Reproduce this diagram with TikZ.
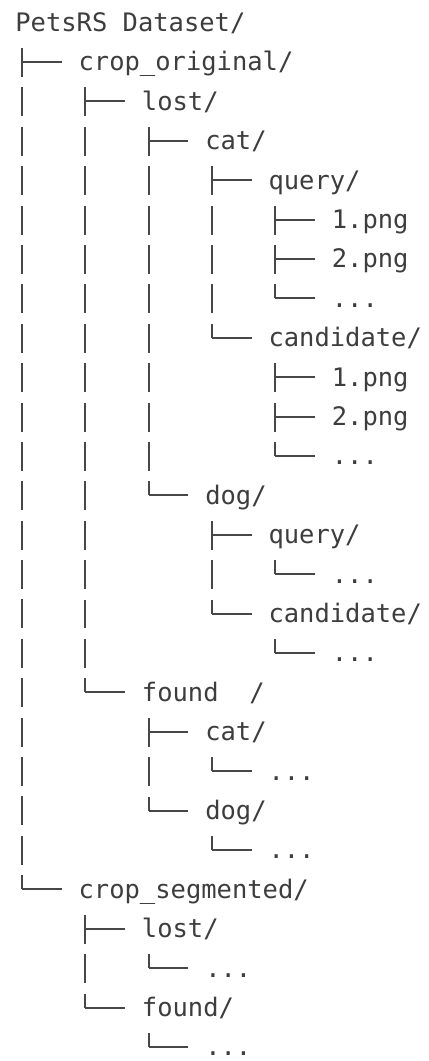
\documentclass[tikz,border=0pt]{standalone}
\usepackage{fontspec}
\setmonofont{DejaVu Sans Mono}
\usepackage{xcolor}
\usepackage{tikz}
\usetikzlibrary{calc}
\definecolor{txt}{HTML}{3D3D3D}
\definecolor{ln}{HTML}{474747}

\begin{document}
\begin{tikzpicture}[x=0.02cm,y=-0.02cm,font=\ttfamily\fontsize{14.5}{17}\selectfont,
  entry/.style={anchor=west,inner sep=0pt,text height=12pt,text depth=1.8pt,text=txt},
  trunk/.style={draw=ln,line width=1.05pt,dash pattern=on 0.58cm off 0.208cm},
  twig/.style={draw=ln,line width=1.05pt,shorten >=0.33cm}]
\useasboundingbox (0,0) rectangle (429,1061);
% entries, one per line of the listing
\node[entry] (root)   at (15,22.6)     {PetsRS Dataset/};
\node[entry] (orig)   at (78.3,62.0)   {crop\_original/};
\node[entry] (olost)  at (141.6,101.4) {lost/};
\node[entry] (olcat)  at (204.9,140.8) {cat/};
\node[entry] (olcq)   at (268.2,180.2) {query/};
\node[entry] (olcq1)  at (331.5,219.6) {1.png};
\node[entry] (olcq2)  at (331.5,259.0) {2.png};
\node[entry] (olcq3)  at (331.5,298.4) {...};
\node[entry] (olcc)   at (268.2,337.8) {candidate/};
\node[entry] (olcc1)  at (331.5,377.2) {1.png};
\node[entry] (olcc2)  at (331.5,416.6) {2.png};
\node[entry] (olcc3)  at (331.5,456.0) {...};
\node[entry] (oldog)  at (204.9,495.4) {dog/};
\node[entry] (oldq)   at (268.2,534.8) {query/};
\node[entry] (oldq1)  at (331.5,574.2) {...};
\node[entry] (oldc)   at (268.2,613.6) {candidate/};
\node[entry] (oldc1)  at (331.5,653.0) {...};
\node[entry] (ofound) at (141.6,692.4) {found\ \ /};
\node[entry] (ofcat)  at (204.9,731.8) {cat/};
\node[entry] (ofcat1) at (268.2,771.2) {...};
\node[entry] (ofdog)  at (204.9,810.6) {dog/};
\node[entry] (ofdog1) at (268.2,850.0) {...};
\node[entry] (seg)    at (78.3,889.4)  {crop\_segmented/};
\node[entry] (slost)  at (141.6,928.8) {lost/};
\node[entry] (slost1) at (204.9,968.2) {...};
\node[entry] (sfound) at (141.6,1007.6) {found/};
\node[entry] (sfound1) at (204.9,1047.0) {...};
% trunk columns under each folder
\foreach \p in {root,orig,olost,olcat,olcq,olcc,oldog,oldq,oldc,ofound,ofcat,ofdog,seg,slost,sfound}
  \coordinate (\p-t) at ($(\p.west)+(7,0)$);
\draw[trunk] ($(root-t |- orig.west)+(0,-14)$) -- (root-t |- seg.west);
\draw[trunk] ($(orig-t |- olost.west)+(0,-14)$) -- (orig-t |- ofound.west);
\draw[trunk] ($(olost-t |- olcat.west)+(0,-14)$) -- (olost-t |- oldog.west);
\draw[trunk] ($(olcat-t |- olcq.west)+(0,-14)$) -- (olcat-t |- olcc.west);
\draw[trunk] ($(olcq-t |- olcq1.west)+(0,-14)$) -- (olcq-t |- olcq3.west);
\draw[trunk] ($(olcc-t |- olcc1.west)+(0,-14)$) -- (olcc-t |- olcc3.west);
\draw[trunk] ($(oldog-t |- oldq.west)+(0,-14)$) -- (oldog-t |- oldc.west);
\draw[trunk] ($(oldq-t |- oldq1.west)+(0,-14)$) -- (oldq-t |- oldq1.west);
\draw[trunk] ($(oldc-t |- oldc1.west)+(0,-14)$) -- (oldc-t |- oldc1.west);
\draw[trunk] ($(ofound-t |- ofcat.west)+(0,-14)$) -- (ofound-t |- ofdog.west);
\draw[trunk] ($(ofcat-t |- ofcat1.west)+(0,-14)$) -- (ofcat-t |- ofcat1.west);
\draw[trunk] ($(ofdog-t |- ofdog1.west)+(0,-14)$) -- (ofdog-t |- ofdog1.west);
\draw[trunk] ($(seg-t |- slost.west)+(0,-14)$) -- (seg-t |- sfound.west);
\draw[trunk] ($(slost-t |- slost1.west)+(0,-14)$) -- (slost-t |- slost1.west);
\draw[trunk] ($(sfound-t |- sfound1.west)+(0,-14)$) -- (sfound-t |- sfound1.west);
% twigs into each entry
\foreach \p/\c in {root/orig,root/seg,orig/olost,orig/ofound,olost/olcat,olost/oldog,
    olcat/olcq,olcat/olcc,olcq/olcq1,olcq/olcq2,olcq/olcq3,olcc/olcc1,olcc/olcc2,olcc/olcc3,
    oldog/oldq,oldog/oldc,oldq/oldq1,oldc/oldc1,ofound/ofcat,ofound/ofdog,ofcat/ofcat1,
    ofdog/ofdog1,seg/slost,seg/sfound,slost/slost1,sfound/sfound1}
  \draw[twig] (\p-t |- \c.west) -- (\c.west);
\end{tikzpicture}
\end{document}
